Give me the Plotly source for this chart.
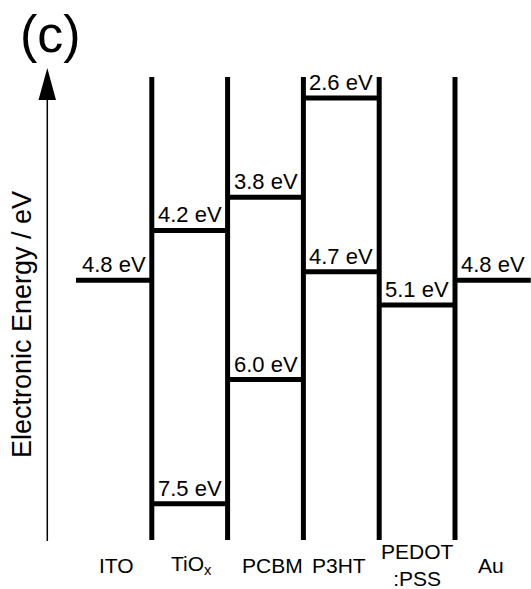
import plotly.graph_objects as go

W, H = 531, 589

# ---- data ----
layers = ["ITO", "TiO<sub>x</sub>", "PCBM", "P3HT", "PEDOT<br>:PSS", "Au"]
level_layer = [0, 1, 1, 2, 2, 3, 3, 4, 5]
level_value = [4.8, 4.2, 7.5, 3.8, 6.0, 2.6, 4.7, 5.1, 4.8]
boundaries = [1, 2, 3, 4, 5]

# ---- layout helpers ----
label_x = [0.54, 1.53, 2.59, 3.47, 4.51, 5.47]   # label centres (column units)
FONT = "Liberation Sans, Arial, Helvetica, sans-serif"

def px(xp):
    return xp / W

def py(yp):
    return 1 - yp / H

fig = go.Figure()

# energy levels
for li, v in zip(level_layer, level_value):
    fig.add_trace(go.Scatter(
        x=[li, li + 1], y=[v, v], mode="lines",
        line=dict(color="black", width=5), hoverinfo="skip", showlegend=False))

shapes = []
# layer boundaries
for b in boundaries:
    shapes.append(dict(type="line", xref="x", yref="paper",
                       x0=b, x1=b, y0=py(540), y1=py(77),
                       line=dict(color="black", width=5)))
# energy arrow
shapes.append(dict(type="line", xref="paper", yref="paper",
                   x0=px(47.3), x1=px(47.3), y0=py(541), y1=py(95),
                   line=dict(color="black", width=1.5)))
shapes.append(dict(type="path", xref="paper", yref="paper",
                   path=f"M {px(38.5)} {py(100)} L {px(47.3)} {py(68)} L {px(56)} {py(100)} Z",
                   fillcolor="black", line=dict(color="black", width=0)))

annotations = []
for li, v in zip(level_layer, level_value):
    annotations.append(dict(x=li + 0.5, y=v, xref="x", yref="y",
                            text=f"{v:.1f} eV", showarrow=False,
                            xanchor="center", yanchor="bottom", yshift=2,
                            borderpad=0,
                            font=dict(family=FONT, size=22, color="black")))
for lx, name in zip(label_x, layers):
    annotations.append(dict(x=lx, y=py(565), xref="x", yref="paper",
                            text=name, showarrow=False, borderpad=0,
                            xanchor="center", yanchor="middle",
                            font=dict(family=FONT, size=21, color="black")))
annotations.append(dict(x=px(22), y=py(325), xref="paper", yref="paper",
                        text="Electronic Energy / eV", textangle=-90,
                        showarrow=False, xanchor="center", yanchor="middle",
                        font=dict(family=FONT, size=27, color="black")))
annotations.append(dict(x=px(50), y=py(34), xref="paper", yref="paper",
                        text="(c)", showarrow=False,
                        xanchor="center", yanchor="middle",
                        font=dict(family=FONT, size=52, color="black")))

# pixel mapping: x_px = 76 + 75.8*i ; y_px = -117.3 + 82.8*v
fig.update_layout(
    width=W, height=H,
    margin=dict(l=0, r=0, t=0, b=0),
    paper_bgcolor="white", plot_bgcolor="white",
    xaxis=dict(range=[(0 - 76) / 75.8, (W - 76) / 75.8], visible=False, fixedrange=True),
    yaxis=dict(range=[(H + 117.3) / 82.8, (0 + 117.3) / 82.8], visible=False, fixedrange=True),
    shapes=shapes, annotations=annotations, showlegend=False,
)

fig.write_html("out.html",
               config={"displayModeBar": False},
               post_script="document.body.style.margin='0';document.body.style.padding='0';document.body.style.overflow='hidden';")
